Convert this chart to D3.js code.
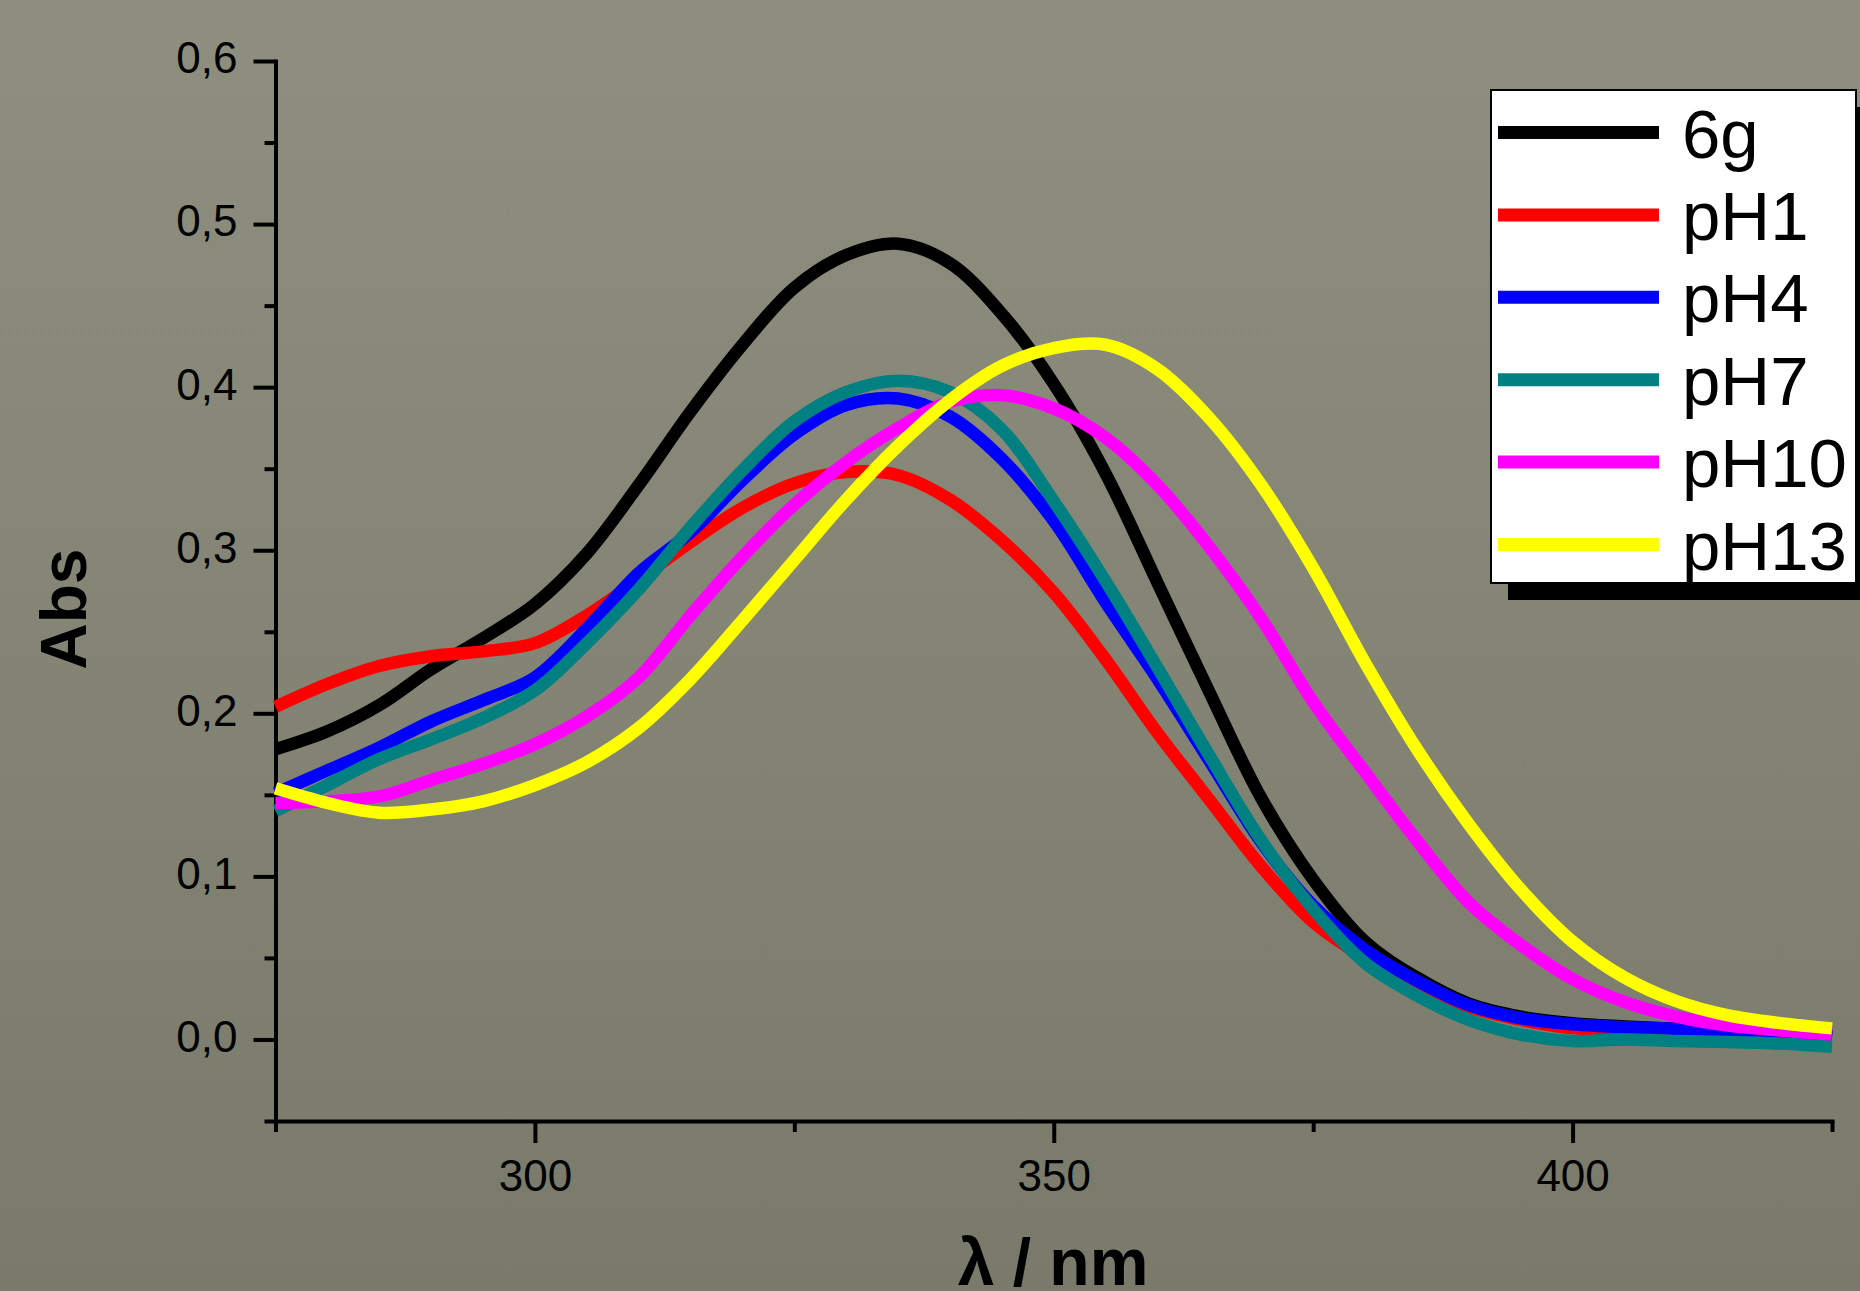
<!DOCTYPE html>
<html>
<head>
<meta charset="utf-8">
<script src="https://cdn.jsdelivr.net/npm/d3@7"></script>
<style>
  body { margin: 0; overflow: hidden; }
  svg { display: block; }
  text { font-family: "Liberation Sans", Arial, sans-serif; }
</style>
</head>
<body>
<script>
// wavelength grid (nm) shared by all spectra
const wavelengths = [275, 280, 285, 290, 295, 300, 305, 310, 315, 320, 325, 330, 335, 340, 345, 350,
                     355, 360, 365, 370, 375, 380, 385, 390, 395, 400, 405, 410, 415, 420, 425];

const abs6g  = [0.178, 0.189, 0.205, 0.227, 0.246, 0.267, 0.298, 0.340, 0.385, 0.426, 0.461, 0.481, 0.488, 0.476, 0.445, 0.402,
                0.347, 0.280, 0.213, 0.148, 0.098, 0.060, 0.038, 0.022, 0.014, 0.010, 0.008, 0.0065, 0.005, 0.004, 0.002];
const absPH1 = [0.204, 0.218, 0.229, 0.235, 0.238, 0.243, 0.260, 0.282, 0.305, 0.326, 0.341, 0.348, 0.346, 0.331, 0.306, 0.274,
                0.233, 0.188, 0.147, 0.106, 0.072, 0.050, 0.033, 0.020, 0.012, 0.007, 0.006, 0.005, 0.003, 0.002, 0.001];
const absPH4 = [0.151, 0.165, 0.179, 0.195, 0.208, 0.222, 0.252, 0.286, 0.311, 0.343, 0.371, 0.389, 0.393, 0.382, 0.356, 0.318,
                0.268, 0.221, 0.171, 0.121, 0.082, 0.055, 0.036, 0.021, 0.013, 0.0093, 0.0075, 0.0065, 0.0055, 0.004, 0.001];
const absPH7 = [0.140, 0.156, 0.172, 0.184, 0.197, 0.214, 0.243, 0.276, 0.314, 0.349, 0.379, 0.397, 0.404, 0.397, 0.374, 0.330,
                0.281, 0.228, 0.174, 0.122, 0.080, 0.047, 0.027, 0.012, 0.003, -0.001, 0.0, -0.001, -0.0015, -0.0025, -0.0045];
const absPH10 = [0.145, 0.146, 0.149, 0.159, 0.169, 0.181, 0.198, 0.222, 0.260, 0.296, 0.328, 0.354, 0.375, 0.391, 0.395, 0.387,
                 0.369, 0.340, 0.302, 0.258, 0.207, 0.164, 0.122, 0.084, 0.058, 0.037, 0.023, 0.014, 0.0085, 0.0055, 0.003];
const absPH13 = [0.154, 0.145, 0.139, 0.141, 0.146, 0.156, 0.170, 0.191, 0.221, 0.257, 0.294, 0.331, 0.364, 0.392, 0.413, 0.424,
                 0.426, 0.411, 0.381, 0.340, 0.289, 0.231, 0.178, 0.132, 0.092, 0.060, 0.038, 0.0235, 0.0147, 0.010, 0.0068];

const seriesNames = ["6g", "pH1", "pH4", "pH7", "pH10", "pH13"];
const seriesColors = ["#000000", "#ff0000", "#0000ff", "#008080", "#ff00ff", "#ffff00"];
const seriesValues = [abs6g, absPH1, absPH4, absPH7, absPH10, absPH13];

const xMajor = [300, 350, 400];
const xMinor = [275, 325, 375, 425];
const yMajor = [0, 0.1, 0.2, 0.3, 0.4, 0.5, 0.6];
const yMinor = [-0.05, 0.05, 0.15, 0.25, 0.35, 0.45, 0.55];

const width = 1860, height = 1291;

const svg = d3.select("body").append("svg")
    .attr("width", width)
    .attr("height", height);

// background gradient
const grad = svg.append("defs").append("linearGradient")
    .attr("id", "bg").attr("x1", 0).attr("y1", 0).attr("x2", 0).attr("y2", 1);
grad.append("stop").attr("offset", "0%").attr("stop-color", "#8e8f7f");
grad.append("stop").attr("offset", "100%").attr("stop-color", "#797a6a");
svg.append("rect").attr("width", width).attr("height", height).attr("fill", "url(#bg)");

const x = d3.scaleLinear().domain([275, 425]).range([275.5, 1832]);
const y = d3.scaleLinear().domain([-0.05, 0.6]).range([1121, 61]);

const comma = v => d3.format(".1f")(v).replace(".", ",");

// y axis
const yAxis = svg.append("g").attr("transform", "translate(275.5,0)")
    .call(d3.axisLeft(y).tickValues(yMajor).tickSize(22).tickSizeOuter(0).tickPadding(16).tickFormat(comma));
svg.append("g").attr("transform", "translate(275.5,0)")
    .call(d3.axisLeft(y).tickValues(yMinor).tickSize(11).tickSizeOuter(0).tickFormat(""))
    .select(".domain").remove();

// x axis
const xAxis = svg.append("g").attr("transform", "translate(0,1121)")
    .call(d3.axisBottom(x).tickValues(xMajor).tickSize(22).tickSizeOuter(0).tickPadding(17));
svg.append("g").attr("transform", "translate(0,1121)")
    .call(d3.axisBottom(x).tickValues(xMinor).tickSize(11).tickSizeOuter(0).tickFormat(""))
    .select(".domain").remove();

svg.selectAll(".domain").attr("stroke", "#000").attr("stroke-width", 4).attr("stroke-linecap", "square");
svg.selectAll(".tick line").attr("stroke", "#000").attr("stroke-width", 4);
svg.selectAll(".tick text").attr("fill", "#000").style("font-size", "44px")
    .style("font-family", "'Liberation Sans', Arial, sans-serif");
yAxis.selectAll(".tick text").attr("dy", "0.27em");

// axis titles
svg.append("text")
    .attr("transform", "translate(86,609) rotate(-90)")
    .attr("text-anchor", "middle")
    .style("font-size", "64px").style("font-weight", "bold")
    .text("Abs");
svg.append("text")
    .attr("x", 1053).attr("y", 1285)
    .attr("text-anchor", "middle")
    .style("font-size", "66px").style("font-weight", "bold")
    .text("λ / nm");

// spectra
const line = d3.line()
    .x((d, i) => x(wavelengths[i]))
    .y(d => y(d))
    .curve(d3.curveCatmullRom.alpha(0.5));

svg.append("g").selectAll("path")
    .data(seriesValues)
    .join("path")
    .attr("d", line)
    .attr("fill", "none")
    .attr("stroke", (d, i) => seriesColors[i])
    .attr("stroke-width", 12.5)
    .attr("stroke-linejoin", "round");

// legend
const legend = svg.append("g");
legend.append("rect")
    .attr("x", 1508).attr("y", 107).attr("width", 365).attr("height", 493)
    .attr("fill", "#000");
legend.append("rect")
    .attr("x", 1491).attr("y", 90).attr("width", 365).attr("height", 493)
    .attr("fill", "#fff").attr("stroke", "#000").attr("stroke-width", 2);

const rows = legend.selectAll(".row")
    .data(seriesNames)
    .join("g")
    .attr("transform", (d, i) => `translate(0,${132.5 + i * 82.4})`);
rows.append("line")
    .attr("x1", 1498).attr("x2", 1659)
    .attr("stroke", (d, i) => seriesColors[i])
    .attr("stroke-width", 13);
rows.append("text")
    .attr("x", 1682).attr("y", 25)
    .style("font-size", "69px")
    .text(d => d);
</script>
</body>
</html>
